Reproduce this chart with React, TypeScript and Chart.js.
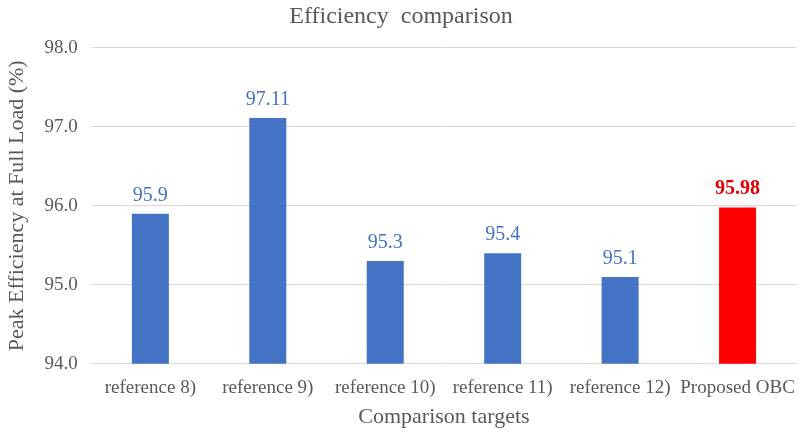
import React, { useEffect, useRef } from "react";
import { Chart, registerables } from "chart.js";

Chart.register(...registerables);

const categories = ["reference 8)", "reference 9)", "reference 10)", "reference 11)", "reference 12)", "Proposed OBC"];
const efficiency = [95.9, 97.11, 95.3, 95.4, 95.1, 95.98];
const labelTexts = ["95.9", "97.11", "95.3", "95.4", "95.1", "95.98"];
const barColors = ["#4472C4", "#4472C4", "#4472C4", "#4472C4", "#4472C4", "#FF0000"];
const labelColors = ["#4472C4", "#4472C4", "#4472C4", "#4472C4", "#4472C4", "#E00000"];
const labelBold = [false, false, false, false, false, true];

const FONT = "'Liberation Serif', 'Times New Roman', serif";

const valueLabels = {
  id: "valueLabels",
  afterDatasetsDraw(chart: any) {
    const ctx = chart.ctx;
    const meta = chart.getDatasetMeta(0);
    ctx.save();
    ctx.textAlign = "center";
    ctx.textBaseline = "alphabetic";
    meta.data.forEach((bar: any, i: number) => {
      ctx.font = `${labelBold[i] ? "bold " : ""}20px ${FONT}`;
      ctx.fillStyle = labelColors[i];
      ctx.fillText(labelTexts[i], bar.x, bar.y - 13);
    });
    ctx.restore();
  },
};

export default function App() {
  const ref = useRef<HTMLCanvasElement>(null);
  useEffect(() => {
    if (!ref.current) return;
    const chart = new Chart(ref.current, {
      type: "bar",
      data: {
        labels: categories,
        datasets: [
          {
            data: efficiency,
            backgroundColor: barColors,
            categoryPercentage: 1,
            barPercentage: 0.315,
          },
        ],
      },
      options: {
        animation: false,
        responsive: true,
        maintainAspectRatio: false,
        layout: { padding: { left: 4, right: 2, top: 0, bottom: 10 } },
        plugins: {
          legend: { display: false },
          tooltip: { enabled: false },
          title: {
            display: true,
            text: "Efficiency  comparison",
            color: "#595959",
            font: { family: FONT, size: 24, weight: "normal" },
            padding: { top: 2, bottom: 17 },
          },
        },
        scales: {
          x: {
            grid: { display: false },
            border: { display: false },
            ticks: {
              color: "#595959",
              font: { family: FONT, size: 19 },
              padding: 5,
              maxRotation: 0,
              autoSkip: false,
            },
            title: {
              display: true,
              text: "Comparison targets",
              color: "#595959",
              font: { family: FONT, size: 22 },
              padding: { top: -1, bottom: 0 },
            },
          },
          y: {
            min: 94,
            max: 98,
            ticks: {
              stepSize: 1,
              color: "#595959",
              font: { family: FONT, size: 19 },
              padding: 14,
              callback: (v: any) => Number(v).toFixed(1),
            },
            grid: { color: "#D9D9D9", drawTicks: false, lineWidth: 1 },
            border: { display: false },
            title: {
              display: true,
              text: "Peak Efficiency at Full Load (%)",
              color: "#595959",
              font: { family: FONT, size: 22 },
              padding: { top: 0, bottom: 0 },
            },
          },
        },
      },
      plugins: [valueLabels],
    });
    return () => chart.destroy();
  }, []);
  return (
    <div style={{ position: "fixed", left: 0, top: 0, width: 800, height: 440, background: "#fff" }}>
      <canvas ref={ref} />
    </div>
  );
}
